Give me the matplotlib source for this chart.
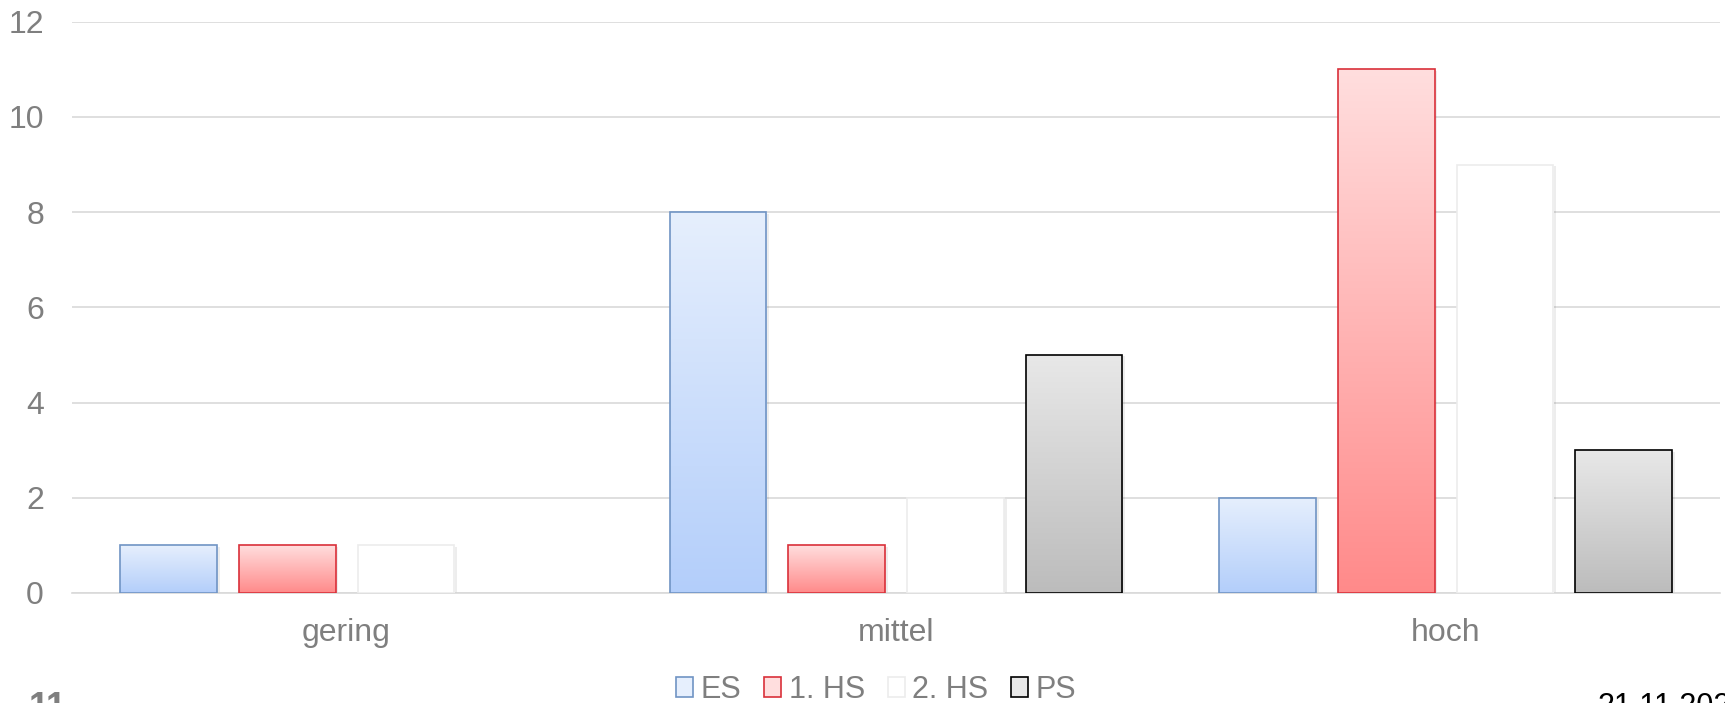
import numpy as np
import matplotlib.pyplot as plt
from matplotlib.colors import LinearSegmentedColormap
from matplotlib.patches import Patch

plt.rcParams['font.family'] = ['Liberation Sans', 'DejaVu Sans']

categories = ['gering', 'mittel', 'hoch']
series = ['ES', '1. HS', '2. HS', 'PS']
values = {
    'ES': [1, 8, 2],
    '1. HS': [1, 1, 11],
    '2. HS': [1, 2, 9],
    'PS': [0, 5, 3],
}
# (top colour, bottom colour, edge colour)
styles = {
    'ES': ('#e6effd', '#b3cefa', '#7094c4'),
    '1. HS': ('#ffdede', '#ff8a8a', '#d9303a'),
    '2. HS': ('#ffffff', '#ffffff', '#ececec'),
    'PS': ('#e8e8e8', '#bcbcbc', '#000000'),
}

fig = plt.figure(figsize=(17.25, 7.03), dpi=100)
ax = fig.add_axes([0.0416, 0.1565, 0.9557, 0.8125])

step = 0.216
width = 0.176
x = np.arange(len(categories))
grad = np.linspace(0, 1, 256).reshape(-1, 1)

for i, name in enumerate(series):
    top, bottom, edge = styles[name]
    cmap = LinearSegmentedColormap.from_list(name, [bottom, top])
    offs = (i - 1.5) * step
    for xi, v in zip(x, values[name]):
        if v <= 0:
            continue
        left = xi + offs - width / 2
        # soft shadow
        ax.bar(xi + offs + 0.003, v + 0.03, width + 0.004, bottom=-0.06,
               color='#000000', alpha=0.07, linewidth=0, zorder=2)
        bar = ax.bar(xi + offs, v, width, facecolor='none', edgecolor=edge,
                     linewidth=1.2, zorder=4)[0]
        im = ax.imshow(grad, cmap=cmap, aspect='auto', origin='lower',
                       extent=[left, left + width, 0, v], zorder=3)
        im.set_clip_path(bar)

ax.set_xlim(-0.5, 2.5)
ax.set_ylim(0, 12)
ax.set_yticks(range(0, 13, 2))
ax.set_xticks(x)
ax.set_xticklabels(categories)
ax.yaxis.grid(True, color='#d9d9d9', linewidth=1.2)
ax.set_axisbelow(True)
for s in ['top', 'right', 'left']:
    ax.spines[s].set_visible(False)
ax.spines['bottom'].set_color('#d9d9d9')
ax.spines['bottom'].set_linewidth(1.2)
ax.tick_params(length=0, labelsize=23, labelcolor='#7f7f7f')
ax.tick_params(axis='x', pad=18)
ax.tick_params(axis='y', pad=20)

handles = []
for name in series:
    top, bottom, edge = styles[name]
    handles.append(Patch(facecolor=top, edgecolor=edge, linewidth=1.2, label=name))
fig.legend(handles=handles, loc='center', bbox_to_anchor=(0.508, 0.019), ncol=4,
           frameon=False, fontsize=22, labelcolor='#7f7f7f', handlelength=0.55,
           handleheight=0.6, handletextpad=0.25, columnspacing=0.75, borderpad=0)

fig.text(0.0165, 0.017, '11', fontsize=26, fontweight='bold', color='#7f7f7f',
         va='top', ha='left')
fig.text(0.926, 0.016, '21.11.2023', fontsize=22, color='#000000',
         va='top', ha='left')

fig.savefig('out.png', dpi=100)
